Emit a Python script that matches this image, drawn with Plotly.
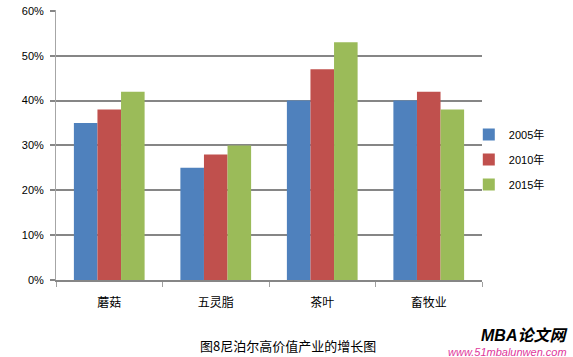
import plotly.graph_objects as go

categories = ["蘑菇", "五灵脂", "茶叶", "畜牧业"]
series_names = ["2005年", "2010年", "2015年"]
values_2005 = [0.35, 0.25, 0.40, 0.40]
values_2010 = [0.38, 0.28, 0.47, 0.42]
values_2015 = [0.42, 0.30, 0.53, 0.38]
y_ticks = [0, 0.1, 0.2, 0.3, 0.4, 0.5, 0.6]
caption = "图8尼泊尔高价值产业的增长图"
watermark_main = "MBA论文网"
watermark_url = "www.51mbalunwen.com"

colors = ["#4F81BD", "#C0504D", "#9BBB59"]
series_values = [values_2005, values_2010, values_2015]

fig = go.Figure()
for name, vals, col in zip(series_names, series_values, colors):
    fig.add_trace(go.Bar(
        x=categories, y=vals, name=name, legendgroup=name,
        marker=dict(color=col, line=dict(width=0)),
    ))

fig.update_layout(
    width=573, height=357,
    margin=dict(l=56, r=91, t=10, b=77, pad=0, autoexpand=False),
    paper_bgcolor="white", plot_bgcolor="white",
    barmode="group", bargap=0.336, bargroupgap=0,
    font=dict(family="Liberation Sans, Arial, Noto Sans CJK SC", size=11, color="#000000"),
    legend=dict(
        x=0.969, xanchor="left", y=0.446, yanchor="middle",
        font=dict(family="Liberation Sans, Noto Sans CJK SC", size=11),
        tracegroupgap=6, itemwidth=30, bgcolor="rgba(0,0,0,0)",
    ),
    showlegend=True,
)

fig.update_xaxes(
    type="category", showgrid=False, showline=True, linecolor="#868686", linewidth=1.5,
    ticks="outside", tickson="boundaries", ticklen=5, tickcolor="#A0A0A0", tickwidth=1,
    tickfont=dict(family="Noto Sans CJK SC", size=12, color="#000000"),
    ticklabelstandoff=11,
    fixedrange=True, automargin=False,
)
fig.update_yaxes(
    range=[0, 0.602], tickvals=y_ticks, tickformat=".0%",
    showgrid=True, gridcolor="#868686", gridwidth=2,
    showline=True, linecolor="#A6A6A6", linewidth=1,
    ticks="outside", ticklen=5, tickcolor="#868686", tickwidth=2,
    tickfont=dict(family="Liberation Sans, Arial", size=11, color="#000000"),
    ticklabelstandoff=4,
    zeroline=False, fixedrange=True, automargin=False, ticklabeloverflow="allow",
)

fig.add_annotation(
    text=caption, xref="paper", yref="paper", x=(288 - 56) / 426, y=-(345 - 280) / 270,
    showarrow=False, xanchor="center", yanchor="middle",
    font=dict(family="Noto Sans CJK SC", size=13, color="#000000"),
)
fig.add_annotation(
    text="<b><i>" + watermark_main + "</i></b>", xref="paper", yref="paper",
    x=(569 - 56) / 426, y=-(335 - 280) / 270, showarrow=False,
    xanchor="right", yanchor="middle",
    font=dict(family="Liberation Sans, Noto Sans CJK SC", size=16, color="#000000"),
)
fig.add_annotation(
    text="<i>" + watermark_url + "</i>", xref="paper", yref="paper",
    x=(569 - 56) / 426, y=-(352 - 280) / 270, showarrow=False,
    xanchor="right", yanchor="middle",
    font=dict(family="Liberation Sans, Arial", size=11, color="#E0379B"),
)

fig.write_html(
    "out.html",
    config={"displayModeBar": False, "staticPlot": True},
    post_script="document.body.style.margin='0';document.body.style.overflow='hidden';",
)
